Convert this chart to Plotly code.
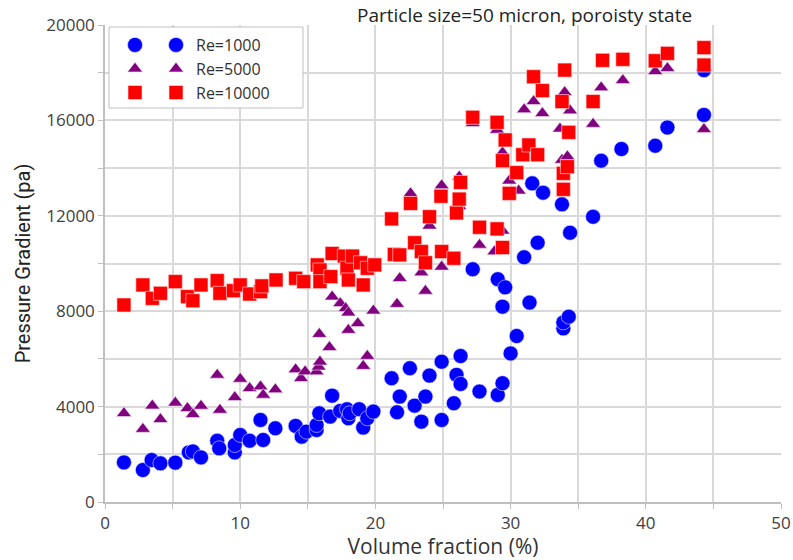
import plotly.graph_objects as go

# Re=1000 (blue circles)
re1000_x = [1.4, 2.8, 3.45, 4.1, 5.2, 6.2, 6.5, 7.1, 8.3, 8.45, 9.6, 9.6, 10.0, 10.7, 11.5, 11.7, 12.6,
            14.1, 14.55, 14.9, 15.65, 15.65, 15.85, 16.65, 16.8, 17.4, 17.9, 18.0, 18.1, 18.8, 19.1, 19.4,
            19.85, 21.2, 21.6, 21.8, 22.55, 22.9, 23.4, 23.7, 24.0, 24.9, 24.9, 25.8, 26.0, 26.3, 26.3,
            27.2, 27.7, 29.05, 29.05, 29.4, 29.4, 29.6, 30.0, 30.45, 31.0, 31.4, 31.6, 32.0, 32.4, 33.8,
            33.9, 33.9, 34.3, 34.4, 36.1, 36.7, 38.2, 40.7, 41.6, 44.3, 44.3]
re1000_y = [1660, 1340, 1760, 1620, 1650, 2080, 2120, 1870, 2570, 2250, 2080, 2390, 2810, 2570, 3440, 2600, 3090,
            3190, 2740, 2950, 3020, 3230, 3720, 3580, 4460, 3820, 3890, 3510, 3720, 3890, 3120, 3510,
            3790, 5190, 3760, 4420, 5610, 4040, 3370, 4420, 5300, 5880, 3440, 4140, 5330, 6120, 4950,
            9760, 4630, 9340, 4490, 8190, 4980, 9000, 6230, 6960, 10260, 8360, 13360, 10870, 12970, 12480,
            7280, 7530, 7770, 11290, 11960, 14310, 14800, 14940, 15700, 16230, 18110]

# Re=5000 (purple triangles)
re5000_x = [1.4, 2.8, 3.5, 4.1, 5.2, 6.1, 6.5, 7.1, 8.3, 8.5, 9.6, 10.0, 10.7, 11.5, 11.7, 12.6,
            14.1, 14.5, 14.8, 15.65, 15.8, 15.9, 15.85, 16.6, 16.8, 17.4, 17.8, 18.0, 18.0, 18.7, 19.1,
            19.4, 19.85, 21.6, 21.8, 22.6, 23.4, 23.7, 24.0, 24.9, 24.9, 26.2, 26.2, 27.2, 27.7, 28.8,
            29.0, 29.4, 29.4, 29.9, 30.6, 31.0, 31.7, 32.35, 33.65, 33.8, 34.0, 34.2, 34.4, 36.1, 36.7,
            38.3, 40.7, 41.6, 44.3]
re5000_y = [3720, 3060, 4040, 3470, 4160, 3930, 3680, 4030, 5330, 3860, 4390, 5160, 4770, 4840, 4490, 4720,
            5560, 5190, 5470, 5470, 5670, 5880, 7040, 6490, 8610, 8330, 8120, 7940, 7210, 7490, 5700,
            6120, 8020, 8300, 9380, 12940, 9620, 8850, 11580, 13270, 9860, 13640, 12400, 15880, 10780, 10500,
            15600, 14650, 11370, 13470, 13050, 16460, 16800, 16300, 15650, 14340, 17180, 14490, 16410, 15850, 17380,
            17680, 18060, 18190, 15630]

# Re=10000 (red squares)
re10000_x = [1.4, 2.8, 3.5, 4.1, 5.2, 6.1, 6.5, 7.1, 8.3, 8.5, 9.5, 10.0, 10.7, 11.5, 11.6, 12.65,
             14.1, 14.7, 15.7, 15.9, 15.9, 16.7, 16.8, 17.7, 17.9, 18.0, 18.3, 18.9, 19.1, 19.4, 19.95,
             21.2, 21.4, 21.8, 22.6, 22.9, 23.4, 23.7, 24.0, 24.85, 24.9, 25.8, 26.0, 26.2, 26.3, 27.2,
             27.7, 29.0, 29.0, 29.4, 29.4, 29.6, 29.9, 30.45, 30.9, 31.35, 31.7, 32.0, 32.35, 33.8, 33.9,
             33.9, 34.0, 34.2, 34.3, 36.1, 36.8, 38.3, 40.7, 41.6, 44.3, 44.3]
re10000_y = [8260, 9100, 8540, 8750, 9240, 8610, 8440, 9100, 9280, 8750, 8860, 9100, 8720, 8820, 9060, 9310,
             9380, 9240, 9940, 9730, 9240, 9450, 10420, 10310, 9800, 9310, 10310, 10030, 9100, 9800, 9940,
             11870, 10380, 10360, 12520, 10870, 10500, 10030, 11960, 12820, 10500, 10220, 12120, 12700, 13400, 16130,
             11520, 15920, 11450, 14310, 10670, 15180, 12940, 13810, 14560, 14970, 17830, 14560, 17250, 16790, 13780,
             13110, 18110, 14060, 15500, 16790, 18520, 18560, 18500, 18810, 19050, 18320]

series_names = ["Re=1000", "Re=5000", "Re=10000"]
series_x = [re1000_x, re5000_x, re10000_x]
series_y = [re1000_y, re5000_y, re10000_y]
markers = [
    dict(symbol="circle", size=15, color="#0000FF", line=dict(color="#e6e6ff", width=0.6)),
    dict(symbol="triangle-up", size=13, color="#800080", line=dict(color="#f0e0f0", width=0.6)),
    dict(symbol="square", size=14, color="#FF0000", line=dict(color="#ffe0e0", width=0.6)),
]

FONT = "Open Sans, Liberation Sans, sans-serif"

fig = go.Figure()
for name, xs, ys, mk in zip(series_names, series_x, series_y, markers):
    fig.add_trace(go.Scatter(x=xs, y=ys, mode="markers", name=name, marker=mk, legend="legend"))
# Excel-style legend shows the marker twice: first column of legend symbols
for name, mk in zip(series_names, markers):
    fig.add_trace(go.Scatter(x=[None], y=[None], mode="markers", name=" ", marker=mk,
                             legend="legend2", hoverinfo="skip"))

grid = "#d9d9d9"
L, R, T, B = 105, 12, 25, 58
pw, ph = 793 - L - R, 560 - T - B

def px2x(p):
    return (p - L) / pw

def px2y(p):
    return 1 - (p - T) / ph

fig.update_layout(
    width=793, height=560,
    margin=dict(l=L, r=R, t=T, b=B, autoexpand=False),
    paper_bgcolor="white", plot_bgcolor="white",
    font=dict(family=FONT, size=17, color="#404040"),
    showlegend=True,
    legend=dict(x=px2x(156), y=px2y(28), xanchor="left", yanchor="top",
                bgcolor="rgba(0,0,0,0)", borderwidth=0,
                font=dict(size=16, color="#333333"), tracegroupgap=0, itemwidth=30),
    legend2=dict(x=px2x(115), y=px2y(28), xanchor="left", yanchor="top",
                 bgcolor="rgba(0,0,0,0)", borderwidth=0,
                 font=dict(size=16, color="#333333"), tracegroupgap=0, itemwidth=30),
    shapes=[dict(type="rect", xref="paper", yref="paper",
                 x0=px2x(109), x1=px2x(303), y0=px2y(108), y1=px2y(27),
                 fillcolor="white", line=dict(color="#bfbfbf", width=1), layer="above")],
    annotations=[dict(text="Particle size=50 micron, poroisty state", xref="paper", yref="paper",
                      x=px2x(524), y=1.0, yanchor="middle", xanchor="center", showarrow=False,
                      font=dict(size=19, color="#222222"), yshift=10)],
)
fig.update_xaxes(
    range=[0, 50], dtick=10, tick0=0, automargin=False,
    showgrid=True, gridcolor=grid, gridwidth=1.5,
    minor=dict(dtick=5, showgrid=True, gridcolor=grid, gridwidth=1.5, ticks="outside", ticklen=5, tickcolor="#bfbfbf"),
    ticks="outside", ticklen=5, tickcolor="#bfbfbf",
    showline=True, linecolor="#bfbfbf", linewidth=1.5,
    zeroline=False, mirror=False,
    tickfont=dict(size=17, color="#404040"),
    title=dict(text="Volume fraction (%)", font=dict(size=21, color="#333333"), standoff=2),
)
fig.update_yaxes(
    range=[0, 20000], dtick=4000, tick0=0, tickformat="d", automargin=False,
    showgrid=True, gridcolor=grid, gridwidth=1.5,
    minor=dict(dtick=2000, showgrid=True, gridcolor=grid, gridwidth=1.5, ticks="outside", ticklen=5, tickcolor="#bfbfbf"),
    ticks="outside", ticklen=5, tickcolor="#bfbfbf",
    showline=True, linecolor="#bfbfbf", linewidth=1.5,
    zeroline=False,
    tickfont=dict(size=17, color="#404040"),
    title=dict(text="Pressure Gradient (pa)",
               font=dict(family="Liberation Sans Narrow, Roboto, sans-serif", size=20, color="#222222"),
               standoff=10),
)
fig.write_html("out.html")
